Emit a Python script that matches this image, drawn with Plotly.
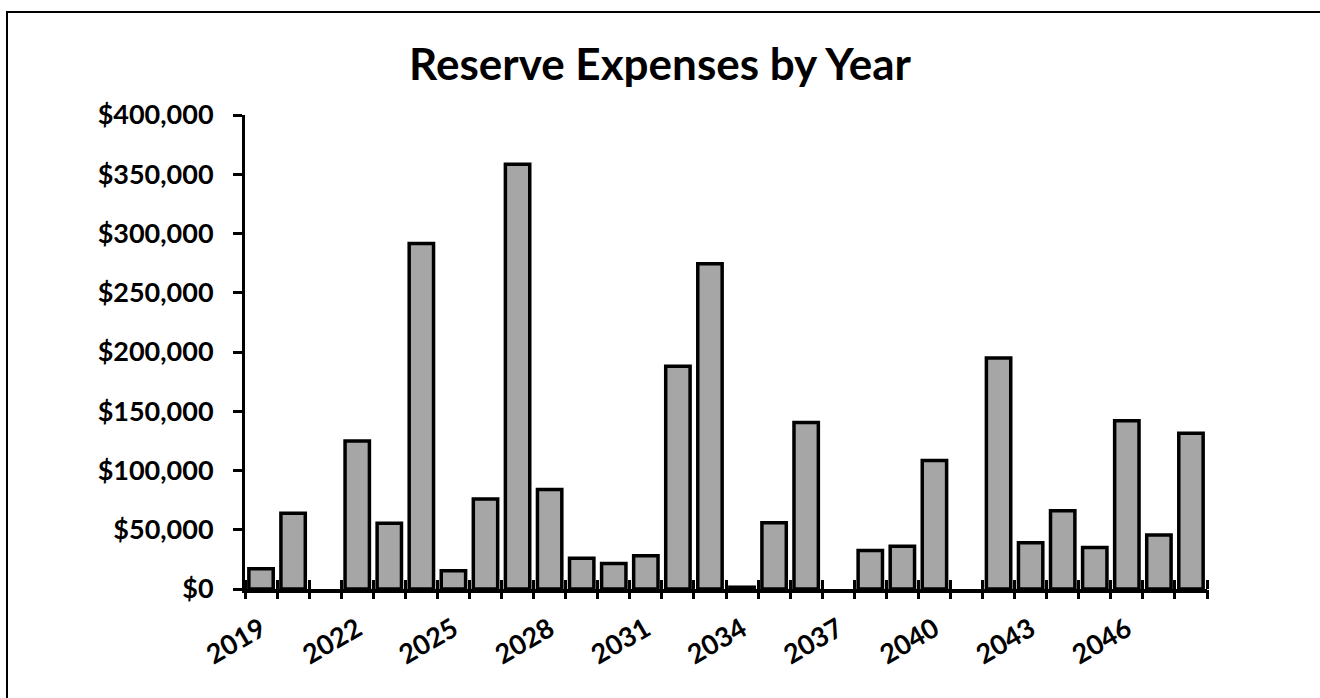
import plotly.graph_objects as go

years = list(range(2019, 2049))
expenses = [17000, 64000, 0, 125000, 55500, 291500, 15500, 76000, 358500, 84000,
            26000, 21500, 28000, 188000, 274500, 1500, 56000, 140500, 0, 32500,
            36000, 108500, 0, 195000, 39000, 66000, 35000, 142000, 45500, 131500]
label_years = list(range(2019, 2049, 3))
boundaries = [y - 0.5 for y in range(2019, 2050)]

FONT = "Lato"
fig = go.Figure()
fig.add_trace(go.Bar(
    x=years, y=[v if v else None for v in expenses], width=0.76,
    marker=dict(color="#A6A6A6", line=dict(color="black", width=3.5)),
    showlegend=False, hoverinfo="skip",
))
# empty trace so the overlay axis carrying the outer tick marks is drawn
fig.add_trace(go.Scatter(x=[], y=[], xaxis="x2", yaxis="y", showlegend=False, hoverinfo="skip"))

W, H = 1320, 698
L, R, T, B = 245, 113, 115, 109
pw, ph = W - L - R, H - T - B

def px(x):
    return (x - L) / pw

def py(y):
    return (H - B - y) / ph

fig.update_layout(
    width=W, height=H,
    margin=dict(l=L, r=R, t=T, b=B),
    paper_bgcolor="white", plot_bgcolor="white",
    title=dict(text="Reserve Expenses by Year", x=0.5, xref="container", xanchor="center",
               y=1 - 65 / H, yref="container", yanchor="middle",
               font=dict(family=FONT, size=44, color="black", weight="bold")),
    xaxis=dict(range=[2018.5, 2048.5], tickmode="array", tickvals=label_years,
               ticktext=[str(y) for y in label_years], ticks="", tickangle=-30,
               showline=True, linecolor="black", linewidth=4, showgrid=False, zeroline=False,
               ticklabelstandoff=10,
               tickfont=dict(family=FONT, size=27, color="black", weight="bold"),
               minor=dict(tickmode="array", tickvals=boundaries, ticks="inside",
                          ticklen=9, tickwidth=3, tickcolor="black", showgrid=False)),
    xaxis2=dict(range=[2018.5, 2048.5], overlaying="x", anchor="y", side="bottom",
                tickmode="array", tickvals=boundaries, showticklabels=False,
                ticks="outside", ticklen=9, tickwidth=3, tickcolor="black",
                showline=False, showgrid=False, zeroline=False),
    yaxis=dict(range=[0, 400000], tickmode="linear", tick0=0, dtick=50000,
               tickformat="$,.0f", ticks="outside", ticklen=9, tickwidth=3, tickcolor="black",
               showline=True, linecolor="black", linewidth=3, showgrid=False, zeroline=False,
               ticklabelstandoff=14,
               tickfont=dict(family=FONT, size=27, color="black", weight="bold")),
    shapes=[
        dict(type="path", xref="paper", yref="paper",
             path=f"M {px(7)},{py(700)} L {px(7)},{py(12)} L {px(1322)},{py(12)}",
             line=dict(color="black", width=2)),
    ],
)
fig.write_html("out.html", config={"displayModeBar": False},
               post_script="document.body.style.margin='0';document.body.style.overflow='hidden';")
